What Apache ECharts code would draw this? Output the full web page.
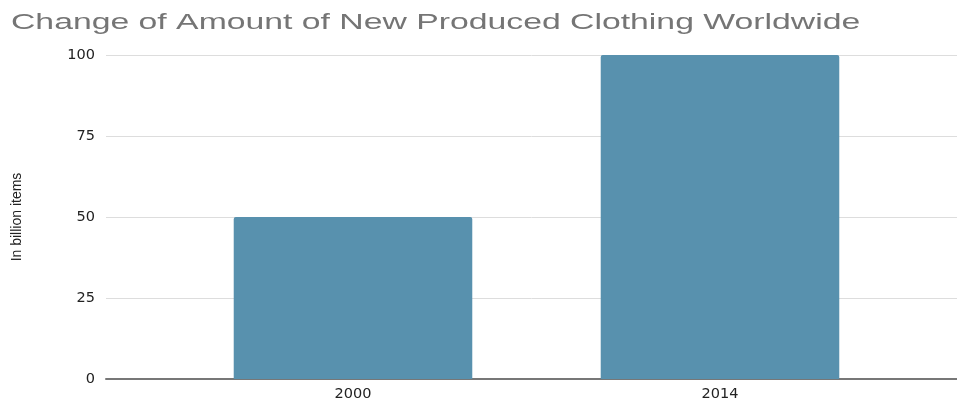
<!DOCTYPE html>
<html>
<head>
<meta charset="utf-8">
<script src="https://cdn.jsdelivr.net/npm/echarts@6/dist/echarts.min.js"></script>
<style>
html, body { margin: 0; padding: 0; background: #fff; }
#chart { width: 957px; height: 404px; }
</style>
</head>
<body>
<div id="chart"></div>
<script>
var years = ['2000', '2014'];
var items = [50, 100];
var yTicks = [0, 25, 50, 75, 100];

var chart = echarts.init(document.getElementById('chart'));
var option = {
    animation: false,
    // the reference picture is stretched sideways, so the title is scaled
    graphic: [{
        type: 'text',
        x: 11,
        y: 11,
        scaleX: 1.5,
        style: {
            text: 'Change of Amount of New Produced Clothing Worldwide',
            font: '22.5px "Liberation Sans", Arial, sans-serif',
            fill: '#757575',
            verticalAlign: 'top'
        }
    }],
    // grid 0: full width for y axis and grid lines, grid 1: bars
    grid: [
        { left: 106, right: 0, top: 55, bottom: 25 },
        { left: 169.5, right: 53.5, top: 55, bottom: 25 }
    ],
    xAxis: [
        {
            type: 'value',
            gridIndex: 0,
            min: 0,
            max: 1,
            axisLabel: { show: false },
            axisTick: { show: false },
            splitLine: { show: false },
            axisLine: { show: true, lineStyle: { color: '#777777', width: 2 } }
        },
        {
            type: 'category',
            gridIndex: 1,
            data: years,
            axisLine: { show: false },
            axisTick: { show: false },
            axisLabel: {
                margin: 8,
                fontFamily: 'DejaVu Sans, sans-serif',
                fontSize: 14.5,
                color: '#222222'
            }
        }
    ],
    yAxis: [
        {
            type: 'value',
            gridIndex: 0,
            min: yTicks[0],
            max: yTicks[yTicks.length - 1],
            interval: 25,
            name: 'In billion items',
            nameLocation: 'middle',
            nameRotate: 90,
            nameGap: 82,
            nameTextStyle: {
                fontFamily: 'Liberation Sans, Arial, sans-serif',
                fontSize: 14,
                color: '#222222'
            },
            axisLine: { show: false },
            axisTick: { show: false },
            axisLabel: {
                margin: 11,
                fontFamily: 'DejaVu Sans, sans-serif',
                fontSize: 14.5,
                color: '#222222'
            },
            splitLine: { lineStyle: { color: '#dddddd', width: 1 } }
        },
        {
            type: 'value',
            gridIndex: 1,
            min: 0,
            max: 100,
            show: false
        }
    ],
    series: [{
        type: 'bar',
        xAxisIndex: 1,
        yAxisIndex: 1,
        data: items,
        barWidth: '65%',
        itemStyle: { color: '#5891ae', borderRadius: [2, 2, 0, 0] }
    }]
};
chart.setOption(option);
</script>
</body>
</html>
